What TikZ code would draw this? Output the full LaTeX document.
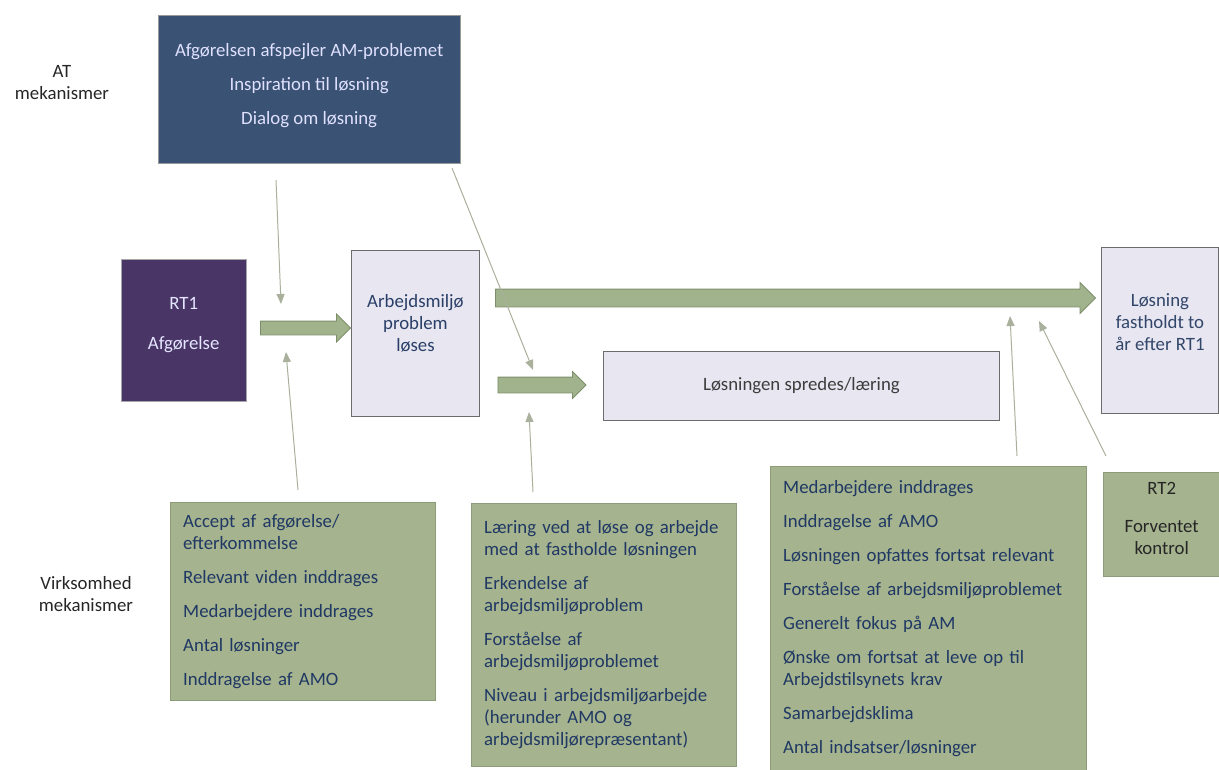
\documentclass[tikz,border=0pt]{standalone}
\usepackage{fontspec}
\setmainfont{Carlito}
\usetikzlibrary{shapes.arrows,arrows.meta}

\definecolor{topblue}{HTML}{3A5273}
\definecolor{rtpurple}{HTML}{4A3567}
\definecolor{lav}{HTML}{E7E6F1}
\definecolor{boxgreen}{HTML}{A5B38E}
\definecolor{greenedge}{HTML}{8C9C78}
\definecolor{arrgreen}{HTML}{A1B38C}
\definecolor{arredge}{HTML}{7D8F6A}
\definecolor{thingrey}{HTML}{A9B09C}
\definecolor{navy}{HTML}{1F3864}
\definecolor{darktxt}{HTML}{262626}

\tikzset{
  base/.style={anchor=north west, inner sep=0pt, align=center,
    font=\fontsize{18.8}{22}\selectfont},
  darkbox/.style={base, fill=topblue, draw=gray!80, text=white!88!blue},
  rtbox/.style={base, fill=rtpurple, draw=gray!70, text=white!90!blue},
  lavbox/.style={base, fill=lav, draw=gray!85!black, line width=0.9pt},
  greenbox/.style={base, fill=boxgreen, draw=greenedge, text=navy, align=left,
    inner xsep=13pt},
  fatarrow/.style={single arrow, fill=arrgreen, draw=arredge, line width=0.8pt,
    inner xsep=0pt},
  thin/.style={draw=thingrey, line width=1pt, -{Triangle[width=8pt,length=10pt]}},
  sidelabel/.style={align=center, text=darktxt, font=\fontsize{18.8}{22}\selectfont}
}

\begin{document}
\begin{tikzpicture}[x=1pt,y=-1pt]
  \useasboundingbox (0,0) rectangle (1219,769);

  % mechanism labels
  \node[sidelabel] (atlabel) at (62,83) {AT\\mekanismer};
  \node[sidelabel] (virklabel) at (86,594) {Virksomhed\\mekanismer};

  % main boxes
  \node[darkbox, text depth=11pt, minimum width=302, minimum height=148] (at) at (158,15)
    {Afgørelsen afspejler AM-problemet\\[12pt]Inspiration til løsning\\[12pt]Dialog om løsning};
  \node[rtbox, text depth=13pt, minimum width=125, minimum height=142] (rt1) at (121,259)
    {RT1\\[18pt]Afgørelse};
  \node[lavbox, text=navy!90!gray, text depth=21pt, minimum width=128, minimum height=166] (arb) at (351,250)
    {Arbejdsmiljø\\problem\\løses};
  \node[lavbox, text=darktxt!90, minimum width=396, minimum height=69] (spred) at (603,351)
    {Løsningen spredes/læring};
  \node[lavbox, text=navy!80!gray, text depth=17pt, minimum width=117, minimum height=166] (fast) at (1101,247)
    {Løsning\\fastholdt to\\år efter RT1};

  % mechanism boxes
  \node[greenbox, text width=239, minimum height=198] (virk1) at (170,502)
    {Accept af afgørelse/\\efterkommelse\\[12pt]Relevant viden inddrages\\[12pt]Medarbejdere inddrages\\[12pt]Antal løsninger\\[12pt]Inddragelse af AMO};
  \node[greenbox, text width=239, minimum height=263] (virk2) at (471,503)
    {Læring ved at løse og arbejde\\med at fastholde løsningen\\[12pt]Erkendelse af\\arbejdsmiljøproblem\\[12pt]Forståelse af\\arbejdsmiljøproblemet\\[12pt]Niveau i arbejdsmiljøarbejde\\(herunder AMO og\\arbejdsmiljørepræsentant)};
  \node[greenbox, text width=290, minimum height=304] (virk3) at (770,466)
    {Medarbejdere inddrages\\[12pt]Inddragelse af AMO\\[12pt]Løsningen opfattes fortsat relevant\\[12pt]Forståelse af arbejdsmiljøproblemet\\[12pt]Generelt fokus på AM\\[12pt]Ønske om fortsat at leve op til\\Arbejdstilsynets krav\\[12pt]Samarbejdsklima\\[12pt]Antal indsatser/løsninger};
  \node[greenbox, align=center, text=darktxt, text depth=11pt, inner xsep=0pt, minimum width=117, minimum height=104] (rt2) at (1103,472)
    {RT2\\[16pt]Forventet\\kontrol};

  % fat arrows
  \node[fatarrow, inner ysep=6.5pt, single arrow head extend=7pt, minimum height=90pt] (pil1) at (302,328) {};
  \node[fatarrow, inner ysep=7.5pt, single arrow head extend=5.5pt, minimum height=88pt] (pil2) at (538,385) {};
  \node[fatarrow, inner ysep=8.5pt, single arrow head extend=6.5pt, minimum height=600pt] (pil3) at (791,298) {};

  % thin arrows
  \coordinate (s1) at (276,180); \coordinate (e1) at (281,304);
  \coordinate (s2) at (452,168); \coordinate (e2) at (533,370);
  \coordinate (s3) at (298,490); \coordinate (e3) at (286,352);
  \coordinate (s4) at (533,492); \coordinate (e4) at (529,412);
  \coordinate (s5) at (1017,456); \coordinate (e5) at (1010,316);
  \coordinate (s6) at (1106,456); \coordinate (e6) at (1039,321);
  \draw[thin] (s1) -- (e1);
  \draw[thin] (s2) -- (e2);
  \draw[thin] (s3) -- (e3);
  \draw[thin] (s4) -- (e4);
  \draw[thin] (s5) -- (e5);
  \draw[thin] (s6) -- (e6);
\end{tikzpicture}
\end{document}
